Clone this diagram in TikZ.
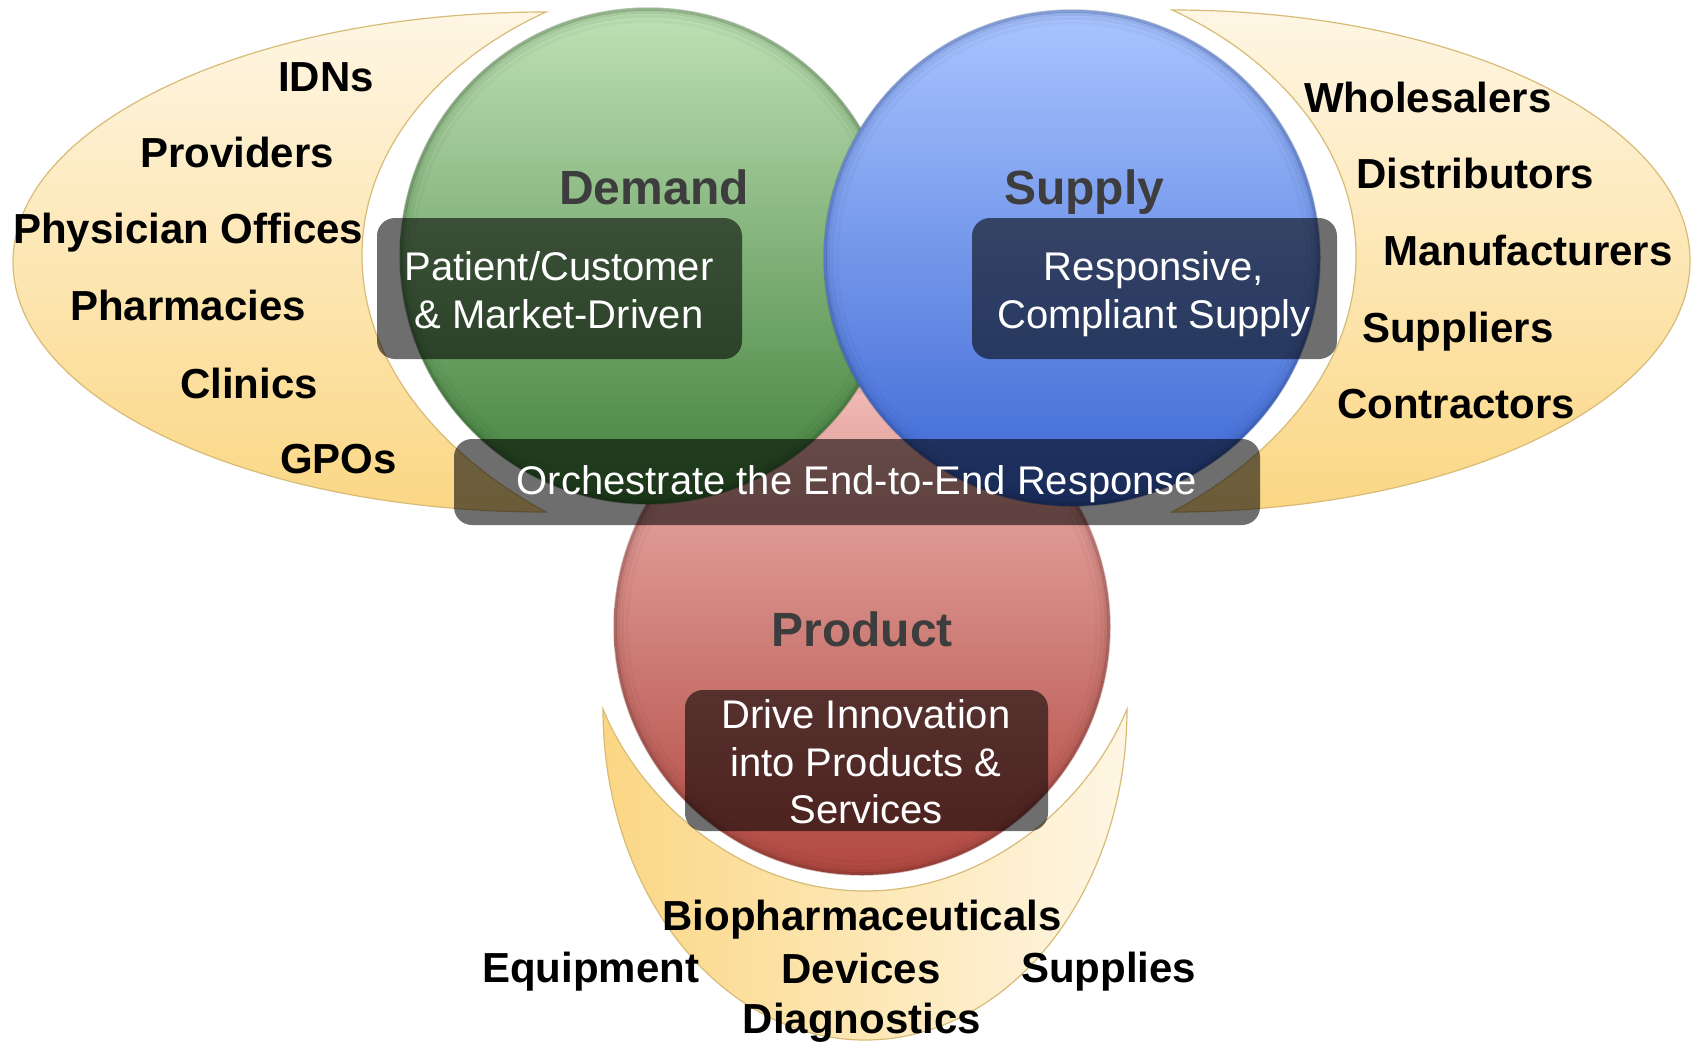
\documentclass[tikz,border=0pt]{standalone}
\usepackage{fontspec}
\setmainfont{Liberation Sans}
\definecolor{crescTop}{HTML}{FEF6E4}
\definecolor{crescBot}{HTML}{FBD784}
\definecolor{crescLine}{HTML}{D8BB76}
\definecolor{gTop}{HTML}{C0E1B6}
\definecolor{gMid}{HTML}{86BA7C}
\definecolor{gBot}{HTML}{40803A}
\definecolor{bTop}{HTML}{AAC5FF}
\definecolor{bMid}{HTML}{6F98F1}
\definecolor{bBot}{HTML}{3A66D4}
\definecolor{rTop}{HTML}{F1BAB6}
\definecolor{rMid}{HTML}{D98F89}
\definecolor{rBot}{HTML}{B04840}
\definecolor{titlegray}{HTML}{3D3D3D}
\tikzset{
  crescent/.style={draw=crescLine, line width=1.2pt, top color=crescTop, bottom color=crescBot},
  crescentb/.style={draw=crescLine, line width=1.2pt, left color=crescBot, right color=crescTop},
  glass/.style={fill=black, fill opacity=0.57, rounded corners=18pt, inner sep=0pt},
  lbl/.style={font=\fontsize{42}{48}\selectfont\bfseries, text=black, inner sep=0pt},
  ttl/.style={font=\fontsize{48}{56}\selectfont\bfseries, text=titlegray, inner sep=0pt},
  wtxt/.style={font=\fontsize{40}{48}\selectfont, text=white, inner sep=0pt},
}
\begin{document}
\begin{tikzpicture}[x=1pt,y=1pt]
\useasboundingbox (0,0) rectangle (1696,-1041);
\fill[white] (0,0) rectangle (1696,-1041);

% crescents
\path[crescent] (546,-12) arc[start angle=90, end angle=270, x radius=533, y radius=250]
  .. controls (450,-460) and (362,-370) .. (362,-255)
  .. controls (362,-150) and (440,-60) .. (546,-12) -- cycle;
\path[crescent] (1172,-10) arc[start angle=90, end angle=-90, x radius=518, y radius=251]
  .. controls (1270,-460) and (1356,-370) .. (1356,-255)
  .. controls (1356,-150) and (1278,-58) .. (1172,-10) -- cycle;
\path[crescentb] (603,-709) arc[start angle=180, end angle=360, x radius=262, y radius=331]
  .. controls (1090,-800) and (990,-891) .. (865,-891)
  .. controls (740,-891) and (640,-800) .. (603,-709) -- cycle;

% circles
\coordinate (R) at (862,-627);
\coordinate (G) at (648,-256);
\coordinate (B) at (1072,-258);
\shade[top color=rTop, middle color=rMid, bottom color=rBot] (R) circle[radius=248];
\foreach \r/\o in {247/0.28, 244/0.14, 240/0.08, 235/0.04}
  \draw[rBot!50!black, opacity=\o, line width=3.5pt] (R) circle[radius=\r];
\shade[top color=gTop, middle color=gMid, bottom color=gBot] (G) circle[radius=248];
\foreach \r/\o in {247/0.28, 244/0.14, 240/0.08, 235/0.04}
  \draw[gBot!50!black, opacity=\o, line width=3.5pt] (G) circle[radius=\r];
\shade[top color=bTop, middle color=bMid, bottom color=bBot] (B) circle[radius=248];
\foreach \r/\o in {247/0.28, 244/0.14, 240/0.08, 235/0.04}
  \draw[bBot!50!black, opacity=\o, line width=3.5pt] (B) circle[radius=\r];

% titles
\node[ttl, anchor=base] (tdemand) at (654,-204) {Demand};
\node[ttl, anchor=base] (tsupply) at (1084,-204) {Supply};
\node[ttl, anchor=base] (tproduct) at (862,-646) {Product};

% glass boxes
\node[glass, minimum width=365pt, minimum height=141pt] (dbox) at (559.5,-288.5) {};
\node[glass, minimum width=365pt, minimum height=141pt] (sbox) at (1154.5,-288.5) {};
\node[glass, minimum width=806pt, minimum height=86pt] (obox) at (857,-482) {};
\node[glass, minimum width=363pt, minimum height=141pt] (pbox) at (866.5,-760.5) {};

\node[wtxt, anchor=base] (d1) at (559,-280) {Patient/Customer};
\node[wtxt, anchor=base] (d2) at (559,-328) {\& Market-Driven};
\node[wtxt, anchor=base] (s1) at (1154,-280) {Responsive,};
\node[wtxt, anchor=base] (s2) at (1154,-328) {Compliant Supply};
\node[wtxt, anchor=base] (o1) at (857,-494) {Orchestrate the End-to-End Response};
\node[wtxt, anchor=base] (p1) at (866,-728) {Drive Innovation};
\node[wtxt, anchor=base] (p2) at (866,-776) {into Products \&};
\node[wtxt, anchor=base] (p3) at (866,-823) {Services};

% left labels
\node[lbl, anchor=base west] (l1) at (278,-91) {IDNs};
\node[lbl, anchor=base west] (l2) at (140,-167) {Providers};
\node[lbl, anchor=base west] (l3) at (13,-243) {Physician Offices};
\node[lbl, anchor=base west] (l4) at (70,-320) {Pharmacies};
\node[lbl, anchor=base west] (l5) at (180,-398) {Clinics};
\node[lbl, anchor=base west] (l6) at (280,-473) {GPOs};

% right labels
\node[lbl, anchor=base west] (r1) at (1304,-112) {Wholesalers};
\node[lbl, anchor=base west] (r2) at (1356,-188) {Distributors};
\node[lbl, anchor=base west] (r3) at (1383,-265) {Manufacturers};
\node[lbl, anchor=base west] (r4) at (1362,-342) {Suppliers};
\node[lbl, anchor=base west] (r5) at (1337,-418) {Contractors};

% bottom labels
\node[lbl, anchor=base] (b1) at (862,-930) {Biopharmaceuticals};
\node[lbl, anchor=base west] (b2) at (482,-982) {Equipment};
\node[lbl, anchor=base] (b3) at (861,-983) {Devices};
\node[lbl, anchor=base west] (b4) at (1021,-982) {Supplies};
\node[lbl, anchor=base] (b5) at (862,-1033) {Diagnostics};
\end{tikzpicture}
\end{document}
